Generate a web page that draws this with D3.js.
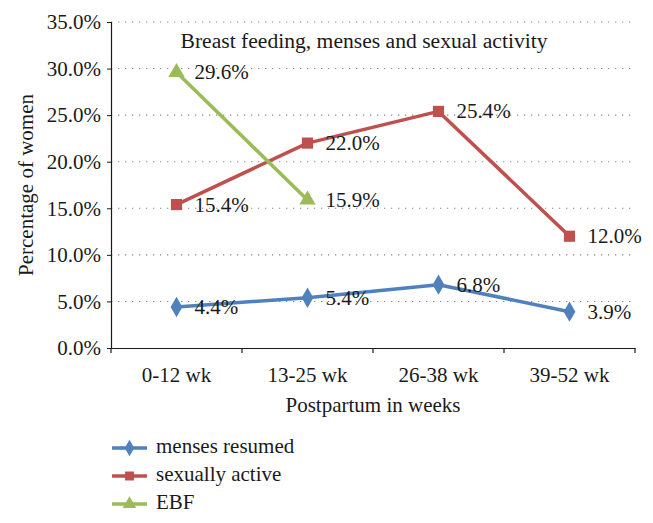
<!DOCTYPE html>
<html><head><meta charset="utf-8">
<script src="https://cdn.jsdelivr.net/npm/d3@7"></script>
<style>
html,body{margin:0;padding:0;background:#fff;}
</style></head>
<body><svg id="c" width="653" height="523"></svg>
<script>
const categories = ["0-12 wk", "13-25 wk", "26-38 wk", "39-52 wk"];
const mensesResumed = [0.044, 0.054, 0.068, 0.039];
const sexuallyActive = [0.154, 0.220, 0.254, 0.120];
const ebf = [0.296, 0.159];
const yTicks = [0, 0.05, 0.10, 0.15, 0.20, 0.25, 0.30, 0.35];
const seriesNames = ["menses resumed", "sexually active", "EBF"];
const seriesColors = ["#4F81BD", "#C0504D", "#9BBB59"];
const seriesShapes = [d3.symbolDiamond, d3.symbolSquare, d3.symbolTriangle];
const title = "Breast feeding, menses and sexual activity";

const TXT = "#1a1a1a";
const fs = 21;

const series = [mensesResumed, sexuallyActive, ebf].map((vals, i) => ({
  name: seriesNames[i], color: seriesColors[i], shape: seriesShapes[i],
  values: vals.map((v, j) => ({cat: categories[j], v}))
}));

function styleText(sel, size) {
  const s = size || fs;
  return sel.attr("font-family", "serif")
    .attr("style", "font-family:'Liberation Serif';font-size:" + s + "px")
    .attr("font-size", s).attr("fill", TXT);
}

const svg = d3.select("#c");
const L = 111, R = 635, T = 22, B = 348;
const x = d3.scaleBand().domain(categories).range([L, R]);
const y = d3.scaleLinear().domain([0, 0.35]).range([B, T]);

// gridlines
svg.append("g").selectAll("line").data(yTicks.filter(t => t > 0)).join("line")
  .attr("x1", L).attr("x2", R).attr("y1", d => y(d)).attr("y2", d => y(d))
  .attr("stroke", "#8a8a8a").attr("stroke-width", 1.1).attr("stroke-dasharray", "1.3,5.7");

// y axis
const yAxis = svg.append("g").attr("transform", `translate(${L},0)`)
  .call(d3.axisLeft(y).tickValues(yTicks).tickFormat(d3.format(".1%")).tickSize(4).tickPadding(6));
yAxis.attr("font-family", "serif").attr("font-size", fs);
yAxis.select(".domain").attr("stroke", TXT).attr("stroke-width", 1.2);
yAxis.selectAll(".tick line").attr("stroke", TXT);
styleText(yAxis.selectAll("text"));

// x axis
const xAxis = svg.append("g").attr("transform", `translate(0,${B})`)
  .call(d3.axisBottom(x).tickSize(0).tickPadding(19));
xAxis.attr("font-family", "serif").attr("font-size", fs);
xAxis.select(".domain").attr("stroke", TXT).attr("stroke-width", 1.2);
styleText(xAxis.selectAll("text"));
// category boundary ticks
const bounds = categories.map(c => x(c)).concat([R]);
svg.append("g").selectAll("line").data(bounds).join("line")
  .attr("x1", d => d).attr("x2", d => d).attr("y1", B).attr("y2", B + 5)
  .attr("stroke", TXT).attr("stroke-width", 1.2);

const cx = c => x(c) + x.bandwidth() / 2;

// lines
const line = d3.line().x(d => cx(d.cat)).y(d => y(d.v));
series.forEach(s => {
  svg.append("path").datum(s.values).attr("d", line)
    .attr("fill", "none").attr("stroke", s.color).attr("stroke-width", 3.5)
    .attr("stroke-linejoin", "round");
});
// markers
series.forEach((s, i) => {
  const sz = [120, 125, 115][i];
  svg.append("g").selectAll("path").data(s.values).join("path")
    .attr("d", d3.symbol().type(s.shape).size(sz))
    .attr("transform", d => `translate(${cx(d.cat)},${y(d.v)})`)
    .attr("fill", s.color);
});
// data labels
series.forEach(s => {
  styleText(svg.append("g").selectAll("text").data(s.values).join("text")
    .attr("x", d => cx(d.cat) + 18).attr("y", d => y(d.v) + 7))
    .text(d => d3.format(".1%")(d.v));
});

// title
styleText(svg.append("text").attr("x", 364).attr("y", 48).attr("text-anchor", "middle"), 21.6).text(title);
// axis titles
styleText(svg.append("text").attr("transform", "translate(33,185) rotate(-90)").attr("text-anchor", "middle"))
  .text("Percentage of women");
styleText(svg.append("text").attr("x", (L + R) / 2).attr("y", 412).attr("text-anchor", "middle"))
  .text("Postpartum in weeks");

// legend
const lg = svg.append("g").selectAll("g").data(series).join("g")
  .attr("transform", (d, i) => `translate(112,${448 + i * 28})`);
lg.append("line").attr("x1", 0).attr("x2", 35).attr("stroke", d => d.color).attr("stroke-width", 3.5);
lg.append("path").attr("d", d => d3.symbol().type(d.shape).size(80)()).attr("transform", "translate(17.5,0)")
  .attr("fill", d => d.color);
styleText(lg.append("text").attr("x", 44).attr("y", 5)).text(d => d.name);
</script></body></html>
